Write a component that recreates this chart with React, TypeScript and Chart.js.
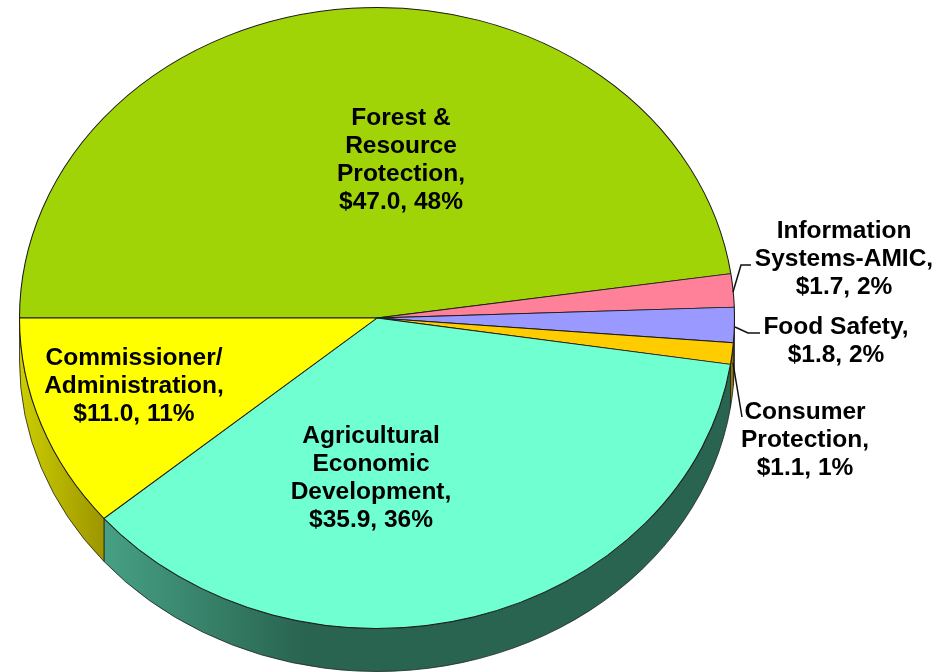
import React, { useEffect, useRef } from "react";
import { Chart, registerables } from "chart.js";

Chart.register(...registerables);

const categories = [
  "Forest & Resource Protection",
  "Information Systems-AMIC",
  "Food Safety",
  "Consumer Protection",
  "Agricultural Economic Development",
  "Commissioner/Administration",
];
const values = [47.0, 1.7, 1.8, 1.1, 35.9, 11.0];
const topColors = ["#a0d406", "#ff8099", "#9999ff", "#ffcc00", "#6fffd0", "#ffff00"];
const sideLight = ["#6a8c04", "#a8566a", "#6666aa", "#a88600", "#46a084", "#cdcd00"];
const sideDark = ["#5f7f03", "#99505f", "#5c5c99", "#997a00", "#296450", "#9c9600"];
const labelLines = [
  ["Forest &", "Resource", "Protection,", "$47.0, 48%"],
  ["Information", "Systems-AMIC,", "$1.7, 2%"],
  ["Food Safety,", "$1.8, 2%"],
  ["Consumer", "Protection,", "$1.1, 1%"],
  ["Agricultural", "Economic", "Development,", "$35.9, 36%"],
  ["Commissioner/", "Administration,", "$11.0, 11%"],
];

// Layout of the drawing (not data)
const PIE = { cx: 377, cy: 318, rx: 357.5, ry: 310.5, depth: 43 };
const LABEL_POS = [
  { x: 401, y: 118 },
  { x: 844, y: 231 },
  { x: 836, y: 327 },
  { x: 805, y: 412 },
  { x: 371, y: 436 },
  { x: 134, y: 358 },
];
const LEADERS = [
  [[733, 292], [741, 265], [751, 265]],
  [[735, 327], [748, 333], [760, 333]],
  [[733, 363], [742, 417]],
];

const pie3d = {
  id: "pie3d",
  beforeDatasetsDraw(chart: any) {
    const ctx = chart.ctx;
    const arcs = chart.getDatasetMeta(0).data;
    const { cx, cy, rx, ry, depth } = PIE;
    ctx.save();
    arcs.forEach((arc: any, i: number) => {
      const a0 = Math.max(arc.startAngle, 0);
      const a1 = Math.min(arc.endAngle, Math.PI);
      if (a1 <= a0) return;
      const x0 = cx + rx * Math.cos(a0);
      const x1 = cx + rx * Math.cos(a1);
      const g = ctx.createLinearGradient(Math.min(x0, x1), 0, Math.max(x0, x1), 0);
      if (i === 5) {
        g.addColorStop(0, sideLight[i]);
        g.addColorStop(1, sideDark[i]);
      } else if (i === 4) {
        g.addColorStop(0, sideLight[i]);
        g.addColorStop(0.32, sideDark[i]);
        g.addColorStop(1, sideDark[i]);
      } else {
        g.addColorStop(0, sideDark[i]);
        g.addColorStop(1, sideDark[i]);
      }
      ctx.beginPath();
      ctx.ellipse(cx, cy + depth, rx, ry, 0, a0, a1);
      ctx.ellipse(cx, cy, rx, ry, 0, a1, a0, true);
      ctx.closePath();
      ctx.fillStyle = g;
      ctx.fill();
      ctx.lineWidth = 0.8;
      ctx.strokeStyle = "#222222";
      ctx.stroke();
    });
    ctx.restore();

    const a = arcs[0];
    ctx.save();
    ctx.translate(cx, cy);
    ctx.scale(rx / a.outerRadius, ry / a.outerRadius);
    ctx.translate(-a.x, -a.y);
  },
  afterDatasetsDraw(chart: any) {
    const ctx = chart.ctx;
    ctx.restore();

    ctx.save();
    ctx.strokeStyle = "#111111";
    ctx.lineWidth = 1.5;
    LEADERS.forEach((pts) => {
      ctx.beginPath();
      pts.forEach((p, k) => (k ? ctx.lineTo(p[0], p[1]) : ctx.moveTo(p[0], p[1])));
      ctx.stroke();
    });
    ctx.fillStyle = "#000000";
    ctx.font = 'bold 24.5px "Liberation Sans", Arial, sans-serif';
    ctx.textAlign = "center";
    ctx.textBaseline = "middle";
    labelLines.forEach((lines, i) => {
      lines.forEach((line, k) => {
        ctx.fillText(line, LABEL_POS[i].x, LABEL_POS[i].y + k * 28);
      });
    });
    ctx.restore();
  },
};

export default function App() {
  const ref = useRef<HTMLCanvasElement>(null);
  useEffect(() => {
    document.body.style.margin = "0";
    document.body.style.background = "#ffffff";
    const chart = new Chart(ref.current as HTMLCanvasElement, {
      type: "pie",
      data: {
        labels: categories,
        datasets: [
          {
            data: values,
            backgroundColor: topColors,
            borderColor: "#1a1a1a",
            borderWidth: 1,
            clip: false,
          } as any,
        ],
      },
      options: {
        animation: false,
        responsive: false,
        rotation: -90,
        layout: { padding: 0 },
        plugins: { legend: { display: false }, tooltip: { enabled: false }, title: { display: false } },
      },
      plugins: [pie3d],
    });
    return () => chart.destroy();
  }, []);
  return <canvas ref={ref} width={951} height={672} style={{ display: "block" }} />;
}
